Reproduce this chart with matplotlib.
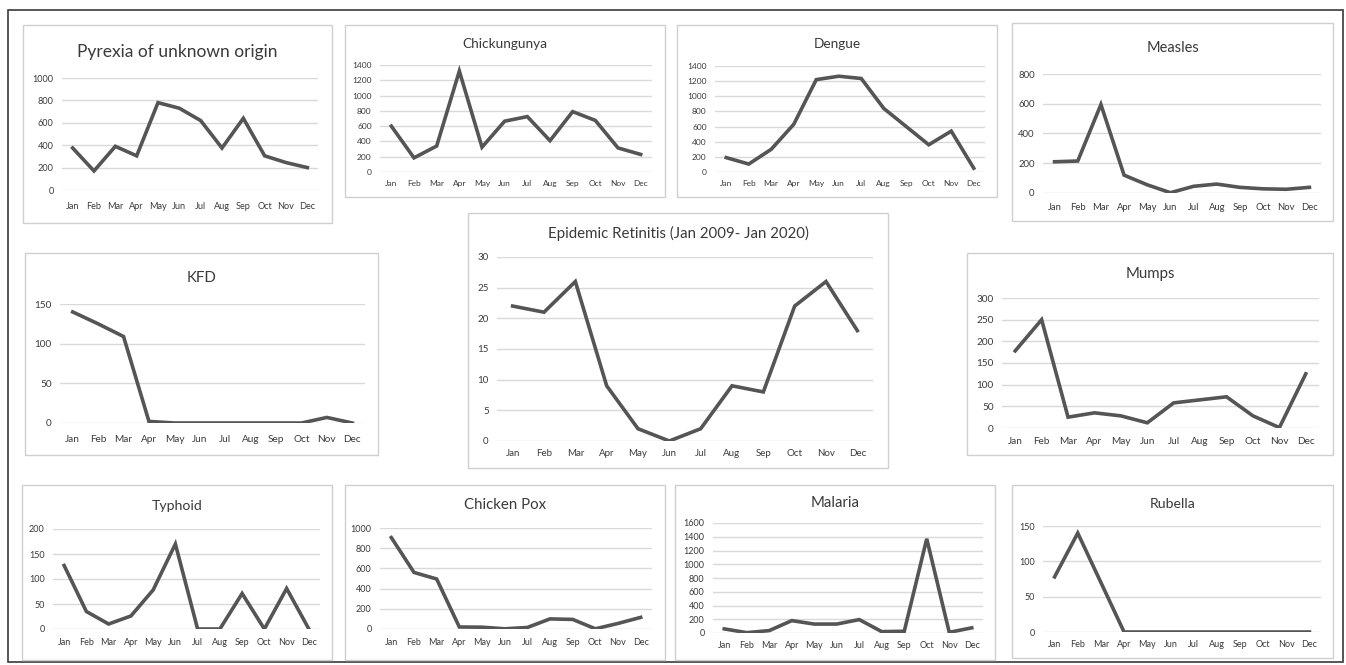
import matplotlib
matplotlib.use("Agg")
import matplotlib.pyplot as plt
from matplotlib.patches import Rectangle

W, H = 1346, 665
months = ["Jan", "Feb", "Mar", "Apr", "May", "Jun", "Jul", "Aug", "Sep", "Oct", "Nov", "Dec"]

pyrexia = [375, 170, 390, 305, 780, 730, 620, 375, 640, 305, 245, 200]
chikungunya = [600, 185, 340, 1320, 325, 665, 725, 410, 790, 675, 315, 230]
dengue = [190, 105, 300, 630, 1220, 1265, 1235, 840, 600, 360, 540, 50]
measles = [210, 215, 595, 120, 55, 2, 45, 60, 38, 28, 25, 38]
kfd = [140, 125, 109, 2, 0, 0, 0, 0, 0, 0, 7, 0]
retinitis = [22, 21, 26, 9, 2, 0, 2, 9, 8, 22, 26, 18]
mumps = [178, 250, 25, 35, 28, 12, 58, 65, 72, 28, 1, 125]
typhoid = [127, 35, 10, 26, 78, 170, 0, 0, 71, 0, 81, 0]
chickenpox = [905, 560, 495, 20, 18, 2, 15, 100, 95, 2, 55, 115]
malaria = [60, 5, 35, 180, 130, 130, 195, 20, 25, 1370, 10, 75]
rubella = [78, 140, 70, 0, 0, 0, 0, 0, 0, 0, 0, 0]

titles = ["Pyrexia of unknown origin", "Chickungunya", "Dengue", "Measles", "KFD",
          "Epidemic Retinitis (Jan 2009- Jan 2020)", "Mumps", "Typhoid", "Chicken Pox",
          "Malaria", "Rubella"]
series = [pyrexia, chikungunya, dengue, measles, kfd, retinitis, mumps, typhoid,
          chickenpox, malaria, rubella]
y_max = [1000, 1400, 1400, 800, 150, 30, 300, 200, 1000, 1600, 150]
y_step = [200, 200, 200, 200, 50, 5, 50, 50, 200, 200, 50]

# layout in pixels: box (x0, y0, x1, y1), plot (x0, x1, ytop, ybottom), title_y, title_fs, tick_fs, xlabel_y
layout = [
    ((23, 25, 332, 223), (62, 318, 78, 190), 52, 12.5, 6.6, 207),
    ((345, 25, 665, 197), (380, 652, 65, 172), 44, 9.8, 6.0, 185),
    ((677, 25, 997, 197), (715, 985, 66, 172), 44, 9.8, 6.0, 185),
    ((1012, 23, 1333, 221), (1043, 1321, 74, 193), 48, 10.5, 6.8, 208),
    ((25, 253, 378, 455), (60, 365, 304, 423), 278, 10.8, 7.2, 440),
    ((468, 213, 888, 468), (497, 873, 257, 441), 233, 10.8, 7.0, 454),
    ((967, 253, 1333, 455), (1002, 1319, 298, 428), 274, 10.8, 7.2, 442),
    ((22, 485, 332, 660), (53, 320, 529, 629), 506, 10.2, 6.5, 643),
    ((345, 485, 665, 660), (380, 652, 528, 629), 505, 10.8, 6.5, 643),
    ((675, 485, 995, 660), (713, 983, 523, 633), 503, 10.8, 6.5, 646),
    ((1012, 485, 1333, 658), (1043, 1321, 526, 632), 504, 10.2, 6.5, 645),
]

plt.rcParams['font.family'] = ['Lato', 'DejaVu Sans']
fig = plt.figure(figsize=(W / 100, H / 100), dpi=100)
fig.patch.set_facecolor("white")

# outer frame
fig.add_artist(Rectangle((8 / W, 1 - 662 / H), (1343 - 8) / W, (662 - 10) / H,
                         transform=fig.transFigure, fill=False, edgecolor="#3a3a3a", lw=1.2))

for i in range(len(series)):
    box, plot, ty, tfs, kfs, ly = layout[i]
    bx0, by0, bx1, by1 = box
    fig.add_artist(Rectangle((bx0 / W, 1 - by1 / H), (bx1 - bx0) / W, (by1 - by0) / H,
                             transform=fig.transFigure, fill=False, edgecolor="#cfcfcf", lw=1.0))
    px0, px1, pyt, pyb = plot
    ax = fig.add_axes([px0 / W, 1 - pyb / H, (px1 - px0) / W, (pyb - pyt) / H])
    ax.plot(range(12), series[i], color="#555555", lw=2.6, solid_joinstyle="miter")
    ax.set_xlim(-0.5, 11.5)
    ax.set_ylim(0, y_max[i])
    ax.set_yticks(list(range(0, y_max[i] + 1, y_step[i])))
    ax.set_xticks(range(12))
    ax.set_xticklabels(months)
    for s in ax.spines.values():
        s.set_visible(False)
    ax.grid(axis="y", color="#d9d9d9", lw=1.0)
    ax.set_axisbelow(True)
    ax.set_facecolor("none")
    fpx = kfs * 100 / 72
    pad = max(0, (ly - pyb - fpx * 0.55)) * 72 / 100
    ax.tick_params(axis="x", length=0, labelsize=kfs, pad=pad, colors="#3a3a3a")
    ax.tick_params(axis="y", length=0, labelsize=kfs, pad=6, colors="#3a3a3a")
    fig.text((bx0 + bx1) / 2 / W, 1 - ty / H, titles[i], ha="center", va="center",
             fontsize=tfs, color="#3a3a3a")

fig.savefig("out.png", dpi=100, facecolor="white")
